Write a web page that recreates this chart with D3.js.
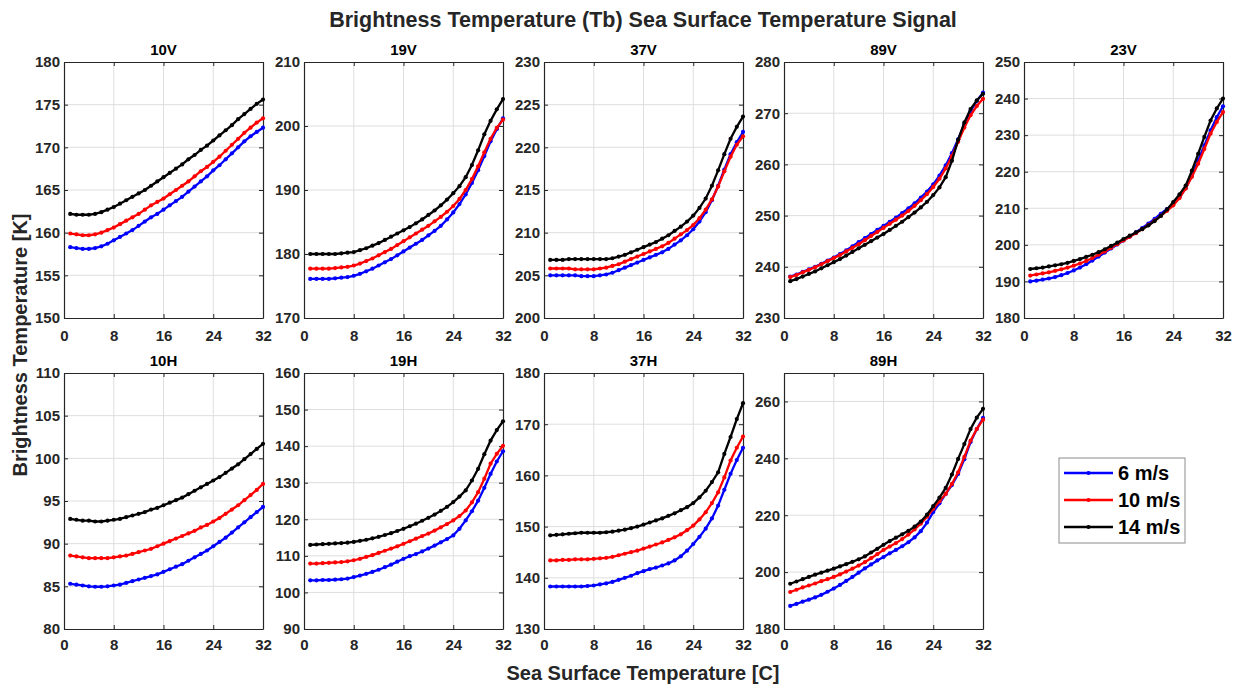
<!DOCTYPE html>
<html lang="en">
<head>
<meta charset="UTF-8">
<title>Brightness Temperature SST Signal</title>
<script src="https://d3js.org/d3.v7.min.js"></script>
<style>
    body { margin: 0; background: #fff; }
    text { font-family: "Liberation Sans", Arial, sans-serif; fill: #262626; }
    .tick text { font-size: 15px; font-weight: bold; }
    .ptitle { font-size: 15px; font-weight: bold; fill: #000; }
    .grid line { stroke: #dedede; stroke-width: 1; }
</style>
</head>
<body>
<svg width="1239" height="688"></svg>
<script>
// SST grid (C)
const sst = [1,2,3,4,5,6,7,8,9,10,11,12,13,14,15,16,17,18,19,20,21,22,23,24,25,26,27,28,29,30,31,32];
const winds = ["6 m/s", "10 m/s", "14 m/s"];
const colors = ["#0000ff", "#ff0000", "#000000"];

// 10V
const tb10V_6  = [158.3,158.2,158.1,158.1,158.2,158.4,158.7,159.1,159.5,159.9,160.3,160.8,161.3,161.8,162.2,162.7,163.2,163.7,164.2,164.8,165.4,166.0,166.6,167.3,167.9,168.6,169.3,170.0,170.7,171.3,171.8,172.3];
const tb10V_10 = [159.9,159.8,159.7,159.7,159.8,160.0,160.3,160.6,161.0,161.4,161.8,162.2,162.7,163.2,163.6,164.0,164.5,165.0,165.5,166.0,166.6,167.2,167.7,168.3,168.9,169.6,170.3,171.0,171.7,172.3,172.9,173.4];
const tb10V_14 = [162.2,162.1,162.1,162.1,162.2,162.4,162.7,163.0,163.4,163.8,164.2,164.6,165.0,165.5,166.0,166.5,167.0,167.5,168.0,168.6,169.1,169.7,170.2,170.8,171.4,172.0,172.6,173.3,173.9,174.5,175.1,175.6];
// 19V
const tb19V_6  = [176.1,176.1,176.1,176.1,176.2,176.3,176.4,176.6,176.9,177.3,177.7,178.2,178.7,179.2,179.8,180.4,181.0,181.6,182.2,182.9,183.6,184.4,185.4,186.5,187.8,189.3,191.1,193.1,195.3,197.6,199.5,201.2];
const tb19V_10 = [177.7,177.7,177.7,177.7,177.8,177.9,178.0,178.2,178.5,178.9,179.3,179.8,180.3,180.8,181.4,182.0,182.6,183.2,183.8,184.4,185.1,185.8,186.6,187.5,188.6,190.0,191.7,193.7,195.9,198.0,199.7,201.0];
const tb19V_14 = [180.0,180.0,180.0,180.0,180.0,180.1,180.2,180.3,180.6,180.9,181.3,181.7,182.2,182.7,183.2,183.7,184.2,184.8,185.4,186.1,186.8,187.6,188.5,189.5,190.6,192.0,193.9,196.2,198.7,200.8,202.6,204.2];
// 37V
const tb37V_6  = [205.0,205.0,205.0,205.0,205.0,204.9,204.9,204.9,205.0,205.1,205.3,205.6,205.9,206.2,206.5,206.8,207.1,207.4,207.7,208.1,208.6,209.1,209.7,210.4,211.3,212.4,213.8,215.5,217.4,219.2,220.6,221.8];
const tb37V_10 = [205.8,205.8,205.8,205.8,205.7,205.7,205.7,205.7,205.8,205.9,206.1,206.3,206.6,206.9,207.2,207.5,207.8,208.1,208.4,208.8,209.3,209.8,210.3,210.9,211.7,212.7,213.9,215.4,217.2,218.9,220.3,221.3];
const tb37V_14 = [206.8,206.8,206.8,206.9,206.9,206.9,206.9,206.9,206.9,206.9,207.0,207.2,207.4,207.7,208.0,208.3,208.6,208.9,209.3,209.7,210.2,210.7,211.3,212.0,212.9,214.0,215.5,217.3,219.2,221.0,222.4,223.6];
// 89V
const tb89V_6  = [238.1,238.5,239.0,239.5,240.0,240.6,241.2,241.8,242.5,243.2,244.0,244.8,245.6,246.4,247.2,248.0,248.8,249.6,250.5,251.4,252.4,253.5,254.7,256.1,257.8,259.8,262.2,264.9,267.8,270.4,272.4,274.0];
const tb89V_10 = [238.0,238.4,238.9,239.4,239.9,240.5,241.1,241.7,242.3,243.0,243.7,244.4,245.2,246.0,246.8,247.6,248.4,249.2,250.0,250.9,251.9,253.0,254.2,255.6,257.2,259.2,261.6,264.4,267.2,269.6,271.4,272.8];
const tb89V_14 = [237.2,237.6,238.1,238.6,239.1,239.7,240.3,240.9,241.5,242.2,242.9,243.6,244.3,245.0,245.7,246.4,247.2,248.0,248.8,249.7,250.6,251.6,252.7,254.0,255.5,257.5,260.7,264.8,268.2,270.8,272.5,273.8];
// 23V
const tb23V_6  = [190.0,190.2,190.5,190.8,191.2,191.7,192.3,193.0,193.8,194.7,195.7,196.8,197.9,199.0,200.1,201.2,202.3,203.4,204.6,205.8,207.1,208.5,209.8,211.2,213.0,215.5,218.9,223.1,227.2,231.3,234.9,237.9];
const tb23V_10 = [191.6,191.9,192.2,192.5,192.9,193.3,193.8,194.3,194.9,195.6,196.4,197.3,198.2,199.2,200.2,201.2,202.2,203.2,204.3,205.4,206.6,207.9,209.3,210.8,212.8,215.4,218.6,222.2,226.2,230.4,233.6,236.3];
const tb23V_14 = [193.4,193.6,193.8,194.1,194.4,194.7,195.1,195.6,196.1,196.7,197.3,198.0,198.8,199.7,200.6,201.6,202.5,203.4,204.3,205.3,206.5,207.9,209.7,211.7,213.8,216.2,220.3,224.9,229.5,234.0,237.3,240.0];
// 10H
const tb10H_6  = [85.3,85.2,85.1,85.0,84.95,84.95,85.0,85.1,85.2,85.4,85.6,85.8,86.0,86.2,86.4,86.7,87.0,87.3,87.6,88.0,88.4,88.8,89.2,89.7,90.2,90.7,91.3,91.9,92.5,93.1,93.7,94.3];
const tb10H_10 = [88.6,88.5,88.4,88.3,88.3,88.3,88.3,88.4,88.5,88.6,88.8,89.0,89.2,89.4,89.7,90.0,90.3,90.6,90.9,91.2,91.5,91.9,92.2,92.6,93.0,93.5,94.0,94.5,95.1,95.7,96.3,97.0];
const tb10H_14 = [92.9,92.8,92.7,92.7,92.6,92.6,92.7,92.8,92.9,93.1,93.3,93.5,93.7,94.0,94.2,94.5,94.8,95.1,95.4,95.8,96.2,96.6,97.0,97.4,97.8,98.3,98.8,99.3,99.9,100.5,101.1,101.7];
// 19H
const tb19H_6  = [103.3,103.3,103.4,103.4,103.5,103.6,103.8,104.2,104.6,105.1,105.6,106.2,106.9,107.6,108.4,109.2,109.9,110.5,111.2,112.0,112.8,113.7,114.6,115.6,117.4,119.7,122.2,125.1,128.6,132.4,135.8,138.6];
const tb19H_10 = [107.9,107.9,108.0,108.1,108.2,108.3,108.5,108.8,109.2,109.7,110.2,110.8,111.4,112.0,112.6,113.3,114.0,114.7,115.4,116.1,116.9,117.8,118.7,119.7,120.9,122.4,124.6,127.4,131.1,135.2,137.9,140.1];
const tb19H_14 = [113.0,113.1,113.2,113.3,113.4,113.5,113.6,113.8,114.1,114.4,114.8,115.2,115.7,116.2,116.8,117.4,118.1,118.8,119.6,120.4,121.3,122.3,123.4,124.7,126.2,127.9,130.6,133.8,137.8,141.5,144.4,146.8];
// 37H
const tb37H_6  = [138.3,138.3,138.3,138.3,138.3,138.3,138.4,138.5,138.7,138.9,139.2,139.6,140.0,140.4,140.9,141.3,141.7,142.0,142.4,142.8,143.4,144.2,145.3,146.6,148.0,149.6,151.6,154.1,157.2,160.3,163.0,165.4];
const tb37H_10 = [143.4,143.4,143.5,143.5,143.6,143.6,143.6,143.7,143.8,143.9,144.1,144.4,144.7,145.0,145.3,145.7,146.1,146.5,146.9,147.4,147.9,148.5,149.3,150.2,151.4,152.8,154.6,156.7,159.6,162.9,165.4,167.6];
const tb37H_14 = [148.3,148.4,148.5,148.6,148.7,148.8,148.8,148.8,148.8,148.9,149.0,149.2,149.4,149.7,150.0,150.4,150.8,151.2,151.6,152.1,152.6,153.2,153.8,154.6,155.7,157.0,158.7,160.6,164.2,167.5,171.0,174.1];
// 89H
const tb89H_6  = [188.1,188.8,189.6,190.3,191.1,192.0,193.1,194.2,195.5,196.9,198.3,199.8,201.3,202.7,204.1,205.3,206.6,207.8,209.1,210.5,212.2,214.4,217.4,221.1,224.2,227.5,230.6,234.5,239.7,245.7,250.3,254.2];
const tb89H_10 = [193.0,193.8,194.6,195.3,196.0,196.8,197.5,198.3,199.2,200.2,201.2,202.3,203.5,204.9,206.3,207.8,209.0,210.2,211.6,213.2,215.0,217.0,219.5,222.3,224.9,227.5,231.0,235.1,240.5,246.2,250.3,253.6];
const tb89H_14 = [195.9,196.7,197.5,198.3,199.1,199.8,200.5,201.2,202.0,202.8,203.6,204.5,205.5,206.9,208.2,209.6,210.9,212.1,213.3,214.5,216.0,217.8,220.2,223.2,226.2,229.6,234.3,239.8,245.0,250.3,254.3,257.4];

const xTicks = [0, 8, 16, 24, 32];

const panels = [
    { name: "10V", row: 0, col: 0, y: [150, 180], ticks: [150,155,160,165,170,175,180], series: [tb10V_6, tb10V_10, tb10V_14] },
    { name: "19V", row: 0, col: 1, y: [170, 210], ticks: [170,180,190,200,210], series: [tb19V_6, tb19V_10, tb19V_14] },
    { name: "37V", row: 0, col: 2, y: [200, 230], ticks: [200,205,210,215,220,225,230], series: [tb37V_6, tb37V_10, tb37V_14] },
    { name: "89V", row: 0, col: 3, y: [230, 280], ticks: [230,240,250,260,270,280], series: [tb89V_6, tb89V_10, tb89V_14] },
    { name: "23V", row: 0, col: 4, y: [180, 250], ticks: [180,190,200,210,220,230,240,250], series: [tb23V_6, tb23V_10, tb23V_14] },
    { name: "10H", row: 1, col: 0, y: [80, 110], ticks: [80,85,90,95,100,105,110], series: [tb10H_6, tb10H_10, tb10H_14] },
    { name: "19H", row: 1, col: 1, y: [90, 160], ticks: [90,100,110,120,130,140,150,160], series: [tb19H_6, tb19H_10, tb19H_14] },
    { name: "37H", row: 1, col: 2, y: [130, 180], ticks: [130,140,150,160,170,180], series: [tb37H_6, tb37H_10, tb37H_14] },
    { name: "89H", row: 1, col: 3, y: [180, 270], ticks: [180,200,220,240,260], series: [tb89H_6, tb89H_10, tb89H_14] }
];

const svg = d3.select("svg");
const pw = 199, ph = 256;
const lefts = [64, 304, 544, 784, 1024];
const tops = [62, 373];

svg.append("text")
    .attr("x", 643).attr("y", 27)
    .attr("text-anchor", "middle")
    .style("font-size", "21.5px").style("font-weight", "bold")
    .text("Brightness Temperature (Tb) Sea Surface Temperature Signal");

panels.forEach(p => {
    const g = svg.append("g").attr("transform", `translate(${lefts[p.col]},${tops[p.row]})`);
    const x = d3.scaleLinear().domain([0, 32]).range([0, pw]);
    const y = d3.scaleLinear().domain(p.y).range([ph, 0]);

    // grid
    g.append("g").attr("class", "grid")
        .selectAll("line.v").data(xTicks.slice(1, -1)).join("line")
        .attr("x1", d => x(d)).attr("x2", d => x(d)).attr("y1", 0).attr("y2", ph);
    g.append("g").attr("class", "grid")
        .selectAll("line.h").data(p.ticks.filter(t => t > p.y[0] && t < p.y[1])).join("line")
        .attr("x1", 0).attr("x2", pw).attr("y1", d => y(d)).attr("y2", d => y(d));

    // axes (MATLAB style: ticks inside, mirrored)
    const ax = [
        g.append("g").attr("transform", `translate(0,${ph})`).call(d3.axisBottom(x).tickValues(xTicks).tickSizeInner(-4).tickSizeOuter(0).tickPadding(p.row === 0 ? 12 : 10)),
        g.append("g").call(d3.axisLeft(y).tickValues(p.ticks).tickSizeInner(-4).tickSizeOuter(0).tickPadding(4)),
        g.append("g").call(d3.axisTop(x).tickValues(xTicks).tickSizeInner(-4).tickSizeOuter(0).tickFormat("")),
        g.append("g").attr("transform", `translate(${pw},0)`).call(d3.axisRight(y).tickValues(p.ticks).tickSizeInner(-4).tickSizeOuter(0).tickFormat(""))
    ];
    ax.forEach(a => {
        a.select(".domain").attr("stroke", "#262626").attr("stroke-width", 1.2);
        a.selectAll(".tick line").attr("stroke", "#262626");
        a.selectAll(".tick text").attr("fill", "#262626");
    });

    const line = d3.line().x((d, i) => x(sst[i])).y(d => y(d));
    p.series.forEach((s, k) => {
        g.append("path").datum(s)
            .attr("d", line)
            .attr("fill", "none")
            .attr("stroke", colors[k])
            .attr("stroke-width", 2.3);
        g.append("g").selectAll("circle").data(s).join("circle")
            .attr("cx", (d, i) => x(sst[i]))
            .attr("cy", d => y(d))
            .attr("r", 2.1)
            .attr("fill", colors[k]);
    });

    g.append("text").attr("class", "ptitle")
        .attr("x", pw / 2).attr("y", -7)
        .attr("text-anchor", "middle")
        .text(p.name);
});

// axis labels
svg.append("text")
    .attr("x", 643).attr("y", 680)
    .attr("text-anchor", "middle")
    .style("font-size", "20px").style("font-weight", "bold")
    .text("Sea Surface Temperature [C]");
svg.append("text")
    .attr("transform", "translate(27,345) rotate(-90)")
    .attr("text-anchor", "middle")
    .style("font-size", "20px").style("font-weight", "bold")
    .text("Brightness Temperature [K]");

// legend
const lg = svg.append("g").attr("transform", "translate(1059,458)");
lg.append("rect").attr("width", 126).attr("height", 85)
    .attr("fill", "#fff").attr("stroke", "#8c8c8c").attr("stroke-width", 1);
winds.forEach((w, k) => {
    const yy = 15 + k * 27;
    lg.append("line").attr("x1", 5).attr("x2", 54).attr("y1", yy).attr("y2", yy)
        .attr("stroke", colors[k]).attr("stroke-width", 2.3);
    lg.append("circle").attr("cx", 29.5).attr("cy", yy).attr("r", 2.1).attr("fill", colors[k]);
    lg.append("text").attr("x", 59).attr("y", yy + 7)
        .style("font-size", "20px").style("font-weight", "bold").style("fill", "#000")
        .text(w);
});
</script>
</body>
</html>
